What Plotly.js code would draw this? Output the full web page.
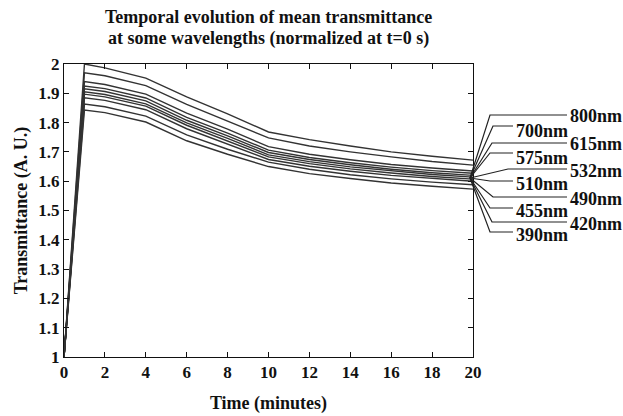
<!DOCTYPE html>
<html>
<head>
<meta charset="utf-8">
<script src="https://cdn.plot.ly/plotly-3.0.1.min.js"></script>
<style>html,body{margin:0;padding:0;background:#fff;}#chart{width:623px;height:416px;}</style>
</head>
<body>
<div id="chart"></div>
<script>
// ---- data ----
const timeMin = [0, 1, 2, 4, 6, 8, 10, 12, 14, 16, 18, 20];
const wavelengths = ["800nm","700nm","615nm","575nm","532nm","510nm","490nm","455nm","420nm","390nm"];
const t800 = [1, 2.000, 1.987, 1.952, 1.888, 1.830, 1.768, 1.742, 1.720, 1.700, 1.685, 1.672];
const t700 = [1, 1.970, 1.960, 1.926, 1.862, 1.806, 1.748, 1.720, 1.700, 1.683, 1.667, 1.655];
const t615 = [1, 1.940, 1.930, 1.897, 1.832, 1.778, 1.718, 1.692, 1.673, 1.657, 1.645, 1.635];
const t575 = [1, 1.925, 1.916, 1.884, 1.818, 1.764, 1.706, 1.681, 1.663, 1.648, 1.636, 1.627];
const t532 = [1, 1.915, 1.906, 1.874, 1.808, 1.755, 1.698, 1.674, 1.656, 1.641, 1.629, 1.620];
const t510 = [1, 1.905, 1.896, 1.864, 1.799, 1.746, 1.690, 1.667, 1.649, 1.635, 1.623, 1.614];
const t490 = [1, 1.897, 1.888, 1.856, 1.791, 1.738, 1.683, 1.660, 1.642, 1.628, 1.616, 1.607];
const t455 = [1, 1.885, 1.876, 1.844, 1.779, 1.727, 1.674, 1.651, 1.634, 1.620, 1.609, 1.600];
const t420 = [1, 1.863, 1.854, 1.822, 1.758, 1.709, 1.665, 1.641, 1.622, 1.608, 1.597, 1.588];
const t390 = [1, 1.843, 1.834, 1.802, 1.738, 1.692, 1.650, 1.626, 1.609, 1.594, 1.583, 1.573];
const series = [t800, t700, t615, t575, t532, t510, t490, t455, t420, t390];
const titleLines = ["Temporal evolution of mean transmittance", "at some wavelengths (normalized at t=0 s)"];

// ---- layout constants (pixel geometry of plot box) ----
const W = 623, H = 416, L = 64, R = 150, T = 64, B = 59;
const pw = W - L - R, ph = H - T - B;
const px2x = px => (px - L) / pw;
const py2y = py => (H - B - py) / ph;

// label placements: [bendX, lineY, endX, textX, textY]
const labelGeom = [
  [490, 115, 567, 568, 116],
  [493, 126, 513, 514, 131],
  [492, 143, 567, 568, 144],
  [490, 153, 513, 514, 158],
  [508, 169, 567, 568, 171],
  [490, 181, 513, 514, 184],
  [493, 197, 567, 568, 199],
  [490, 208, 513, 514, 211],
  [492, 222, 567, 568, 224],
  [490, 232, 513, 514, 235]
];
const convX = 470, convY = 178;

const fontFam = '"Liberation Serif", "Times New Roman", serif';
const bold = (size) => ({family: fontFam, size: size, color: '#111', weight: 'bold'});

const traces = series.map((s, i) => ({
  x: timeMin, y: s, type: 'scatter', mode: 'lines', name: wavelengths[i],
  line: {color: '#333', width: 1.4}, hoverinfo: 'none'
}));

const shapes = labelGeom.map(g => ({
  type: 'path', xref: 'paper', yref: 'paper',
  path: `M ${px2x(convX)} ${py2y(convY)} L ${px2x(g[0])} ${py2y(g[1])} L ${px2x(g[2])} ${py2y(g[1])}`,
  line: {color: '#222', width: 1.2}
}));

const annotations = labelGeom.map((g, i) => ({
  xref: 'paper', yref: 'paper', x: px2x(g[3]), y: py2y(g[4]),
  xanchor: 'left', yanchor: 'middle', showarrow: false,
  text: wavelengths[i], font: bold(18)
}));
annotations.push({
  xref: 'paper', yref: 'paper', x: px2x(268), y: py2y(17),
  xanchor: 'center', yanchor: 'middle', showarrow: false,
  text: titleLines[0], font: bold(18)
});
annotations.push({
  xref: 'paper', yref: 'paper', x: px2x(268), y: py2y(38),
  xanchor: 'center', yanchor: 'middle', showarrow: false,
  text: titleLines[1], font: bold(18)
});

const layout = {
  width: W, height: H,
  margin: {l: L, r: R, t: T, b: B, pad: 0},
  paper_bgcolor: '#fff', plot_bgcolor: '#fff',
  showlegend: false,
  font: bold(16),
  xaxis: {
    range: [0, 20], dtick: 2, tick0: 0,
    showline: true, mirror: 'ticks', linecolor: '#111', linewidth: 1,
    ticks: 'inside', ticklen: 5, tickcolor: '#111',
    showgrid: false, zeroline: false,
    tickfont: bold(17),
    title: {text: 'Time (minutes)', standoff: 14, font: bold(18)}
  },
  yaxis: {
    range: [1, 2], dtick: 0.1, tick0: 1,
    showline: true, mirror: 'ticks', linecolor: '#111', linewidth: 1,
    ticks: 'inside', ticklen: 5, tickcolor: '#111',
    showgrid: false, zeroline: false,
    tickfont: bold(17),
    title: {text: 'Transmittance (A. U.)', standoff: 6, font: bold(18)}
  },
  shapes: shapes,
  annotations: annotations
};

Plotly.newPlot('chart', traces, layout, {displayModeBar: false, staticPlot: true});
</script>
</body>
</html>
